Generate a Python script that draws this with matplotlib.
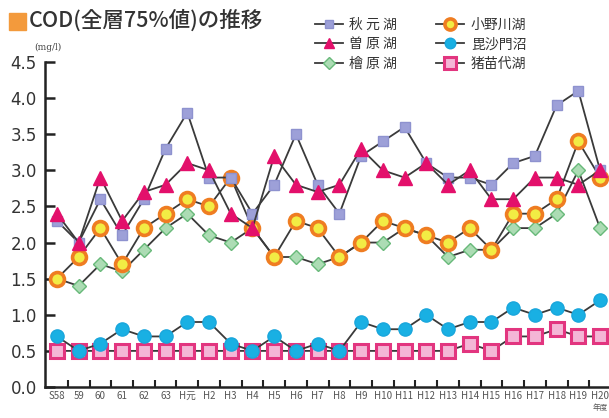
import matplotlib
matplotlib.use("Agg")
import matplotlib.pyplot as plt
from matplotlib.lines import Line2D
from matplotlib.patches import Rectangle
import numpy as np

plt.rcParams['font.family'] = ['Noto Sans CJK JP', 'DejaVu Sans']

# data (mg/l, 全層75%値)
years = ['S58', '59', '60', '61', '62', '63', 'H元', 'H2', 'H3', 'H4', 'H5', 'H6', 'H7',
         'H8', 'H9', 'H10', 'H11', 'H12', 'H13', 'H14', 'H15', 'H16', 'H17', 'H18', 'H19', 'H20']
akimoto = [2.3, 2.0, 2.6, 2.1, 2.6, 3.3, 3.8, 2.9, 2.9, 2.4, 2.8, 3.5, 2.8,
           2.4, 3.2, 3.4, 3.6, 3.1, 2.9, 2.9, 2.8, 3.1, 3.2, 3.9, 4.1, 3.0]
sohara = [2.4, 2.0, 2.9, 2.3, 2.7, 2.8, 3.1, 3.0, 2.4, 2.2, 3.2, 2.8, 2.7,
          2.8, 3.3, 3.0, 2.9, 3.1, 2.8, 3.0, 2.6, 2.6, 2.9, 2.9, 2.8, 3.0]
hibara = [1.5, 1.4, 1.7, 1.6, 1.9, 2.2, 2.4, 2.1, 2.0, 2.2, 1.8, 1.8, 1.7,
          1.8, 2.0, 2.0, 2.2, 2.1, 1.8, 1.9, 1.9, 2.2, 2.2, 2.4, 3.0, 2.2]
onogawa = [1.5, 1.8, 2.2, 1.7, 2.2, 2.4, 2.6, 2.5, 2.9, 2.2, 1.8, 2.3, 2.2,
           1.8, 2.0, 2.3, 2.2, 2.1, 2.0, 2.2, 1.9, 2.4, 2.4, 2.6, 3.4, 2.9]
bishamon = [0.7, 0.5, 0.6, 0.8, 0.7, 0.7, 0.9, 0.9, 0.6, 0.5, 0.7, 0.5, 0.6,
            0.5, 0.9, 0.8, 0.8, 1.0, 0.8, 0.9, 0.9, 1.1, 1.0, 1.1, 1.0, 1.2]
inawashiro = [0.5, 0.5, 0.5, 0.5, 0.5, 0.5, 0.5, 0.5, 0.5, 0.5, 0.5, 0.5, 0.5,
              0.5, 0.5, 0.5, 0.5, 0.5, 0.5, 0.6, 0.5, 0.7, 0.7, 0.8, 0.7, 0.7]

x = np.arange(len(years))
line_c = '#3a3a3a'

fig = plt.figure(figsize=(6.09, 4.18), dpi=100)
ax = fig.add_axes([45 / 609, 1 - 387 / 418, (609 - 45) / 609, (387 - 62) / 418])

# draw order: bottom to top
styles = [
    ('猪苗代湖', inawashiro, dict(marker='s', ms=10, mfc='#f4b6d6', mec='#e2357f', mew=2.2)),
    ('毘沙門沼', bishamon, dict(marker='o', ms=9.5, mfc='#19b0e3', mec='#19a6dc', mew=1)),
    ('檜 原 湖', hibara, dict(marker='D', ms=7.5, mfc='#acdcb4', mec='#68b97a', mew=1)),
    ('小野川湖', onogawa, dict(marker='o', ms=10, mfc='#f2ec44', mec='#ef7d22', mew=2.6)),
    ('秋 元 湖', akimoto, dict(marker='s', ms=7.5, mfc='#9da0d8', mec='#8e92cf', mew=1)),
    ('曽 原 湖', sohara, dict(marker='^', ms=9.5, mfc='#e3106b', mec='#e3106b', mew=1)),
]
handles = {}
for name, vals, st in styles:
    ax.plot(x, vals, color=line_c, lw=1.3, **st)
    leg_st = dict(st)
    leg_st['ms'] = st['ms'] * 0.8
    handles[name] = Line2D([], [], color=line_c, lw=1.3, **leg_st)

ax.set_xlim(-0.55, 25.41)
ax.set_ylim(0, 4.5)
ax.set_yticks(np.arange(0, 4.51, 0.5))
ax.set_yticklabels([f'{v:.1f}' for v in np.arange(0, 4.51, 0.5)],
                   fontsize=12, color='#333333', family=['DejaVu Sans'])
ax.set_xticks(x)
ax.set_xticklabels(years, fontsize=7, color='#555555',
                   family=['Liberation Sans Narrow', 'Noto Sans CJK JP'])
ax.set_xticks(x[:-1] + 0.5, minor=True)
ax.tick_params(axis='x', which='major', length=0, pad=3)
ax.tick_params(axis='x', which='minor', direction='in', length=5, width=1.5, color='#222222')
ax.tick_params(axis='y', direction='in', length=7, width=1.8, color='#222222', pad=6)
for s in ['top', 'right']:
    ax.spines[s].set_visible(False)
for s in ['left', 'bottom']:
    ax.spines[s].set_linewidth(1.8)
    ax.spines[s].set_color('#222222')

# title
fig.patches.append(Rectangle((9 / 609, 1 - 30 / 418), 17 / 609, 17 / 418,
                             transform=fig.transFigure, color='#f39a3c', zorder=5))
fig.text(29 / 609, 1 - 21 / 418, 'COD(全層75%値)の推移', fontsize=15.5,
         color='#333333', va='center', ha='left', weight='medium')
fig.text(34 / 609, 1 - 47 / 418, '(mg/l)', fontsize=6.5, color='#444444',
         va='center', ha='left', family=['DejaVu Serif'])
ax.text(25, -0.29, '年度', fontsize=5.5, color='#555555', ha='center', va='center')

order = ['秋 元 湖', '曽 原 湖', '檜 原 湖', '小野川湖', '毘沙門沼', '猪苗代湖']
leg = fig.legend([handles[k] for k in order], order, ncol=2, loc='upper left',
                 bbox_to_anchor=(305 / 609, 1 - 8 / 418), frameon=False,
                 fontsize=10, handlelength=2.0, handletextpad=0.5,
                 columnspacing=2.8, labelspacing=0.4, borderpad=0.2)
for t in leg.get_texts():
    t.set_color('#333333')

fig.savefig('out.png', dpi=100, facecolor='white')
